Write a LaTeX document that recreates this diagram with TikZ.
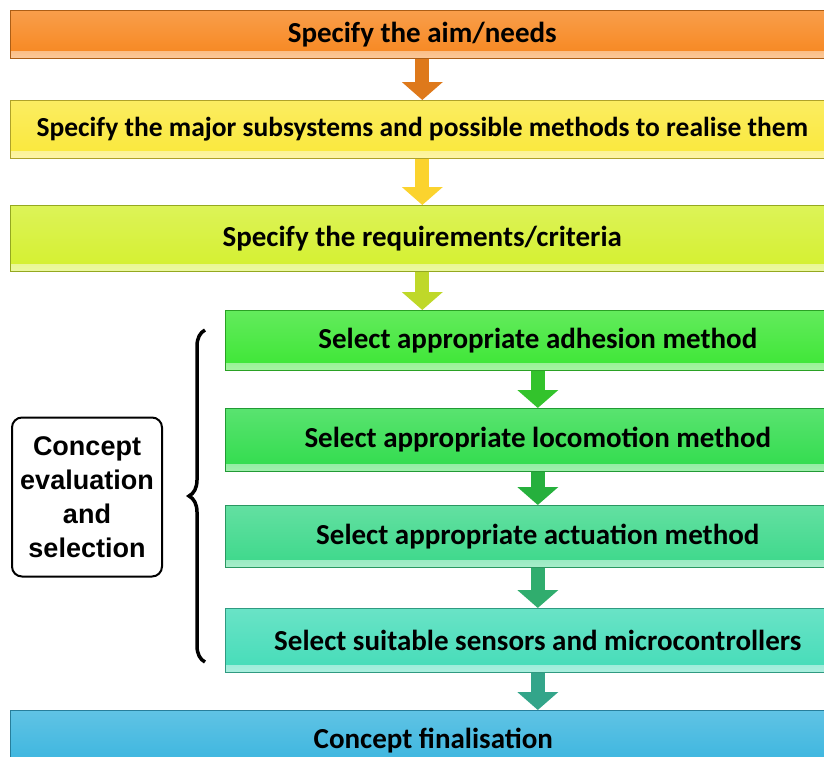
\documentclass[tikz,border=0pt]{standalone}
\usepackage{fontspec}
\setmainfont{Carlito}
\newfontfamily\labelfont{Liberation Sans}
\usetikzlibrary{arrows.meta,positioning,calc,decorations.pathreplacing}
\definecolor{aimc}{HTML}{F7861E}
\definecolor{subc}{HTML}{FAE83A}
\definecolor{reqc}{HTML}{D4F02E}
\definecolor{adhc}{HTML}{3CE634}
\definecolor{locc}{HTML}{30DC4C}
\definecolor{actc}{HTML}{3CD88A}
\definecolor{senc}{HTML}{44DCB8}
\definecolor{finc}{HTML}{38B4DE}
\tikzset{
  stage/.style={anchor=north west,inner sep=0pt,draw=#1!70!black,line width=0.6pt,
    top color=#1!80!white,bottom color=#1,
    font=\fontsize{29}{34}\selectfont\bfseries,
    path picture={\shade[top color=#1,bottom color=#1!45!white]
      ([yshift=7pt]path picture bounding box.south west) rectangle (path picture bounding box.south east);}},
  flow/.style={draw=#1,line width=14pt,-{Triangle[width=40pt,length=18pt]}},
  evalbox/.style={draw,line width=2pt,rounded corners=10pt,minimum width=150pt,minimum height=159pt,
    align=center,inner sep=0pt,font=\labelfont\fontsize{27}{34}\selectfont\bfseries},
  groupbrace/.style={decorate,decoration={brace,amplitude=16pt},line width=3.5pt}
}
\begin{document}
\begin{tikzpicture}[x=1pt,y=-1pt]
 \useasboundingbox (0,0) rectangle (824,756);
 % main chain
 \node[stage=aimc,minimum width=824pt,minimum height=48pt] (aim) at (10,10) {Specify the aim/needs};
 \node[stage=subc,minimum width=824pt,minimum height=58pt,font=\fontsize{27.5}{34}\selectfont\bfseries] (subsys) at (10,100) {Specify the major subsystems and possible methods to realise them};
 \node[stage=reqc,minimum width=824pt,minimum height=66pt] (reqs) at (10,205) {Specify the requirements/criteria};
 \node[stage=adhc,minimum width=625pt,minimum height=60pt] (adhesion) at (225,310) {Select appropriate adhesion method};
 \node[stage=locc,minimum width=625pt,minimum height=63pt] (locomotion) at (225,408) {Select appropriate locomotion method};
 \node[stage=actc,minimum width=625pt,minimum height=62pt] (actuation) at (225,505) {Select appropriate actuation method};
 \node[stage=senc,minimum width=625pt,minimum height=64pt] (sensors) at (225,608) {Select suitable sensors and microcontrollers};
 \node[stage=finc,minimum width=846pt,minimum height=60pt] (final) at (10,710) {Concept finalisation};
 \draw[flow=aimc!90!black] (aim.south) -- (subsys.north);
 \draw[flow=subc!80!orange] (subsys.south) -- (reqs.north);
 \draw[flow=reqc!90!black] (reqs.south) -- (reqs.south |- adhesion.north);
 \draw[flow=adhc!85!black] (adhesion.south) -- (locomotion.north);
 \draw[flow=locc!80!black] (locomotion.south) -- (actuation.north);
 \draw[flow=actc!80!black] (actuation.south) -- (sensors.north);
 \draw[flow=senc!75!black] (sensors.south) -- (sensors.south |- final.north);
 % grouping on the left
 \node[evalbox] (eval) at (87,497) {Concept\\evaluation\\and\\selection};
 \coordinate (brtop) at (205,330);
 \coordinate (brbot) at (205,662);
 \draw[groupbrace] (brbot) -- (brtop);
\end{tikzpicture}
\end{document}
